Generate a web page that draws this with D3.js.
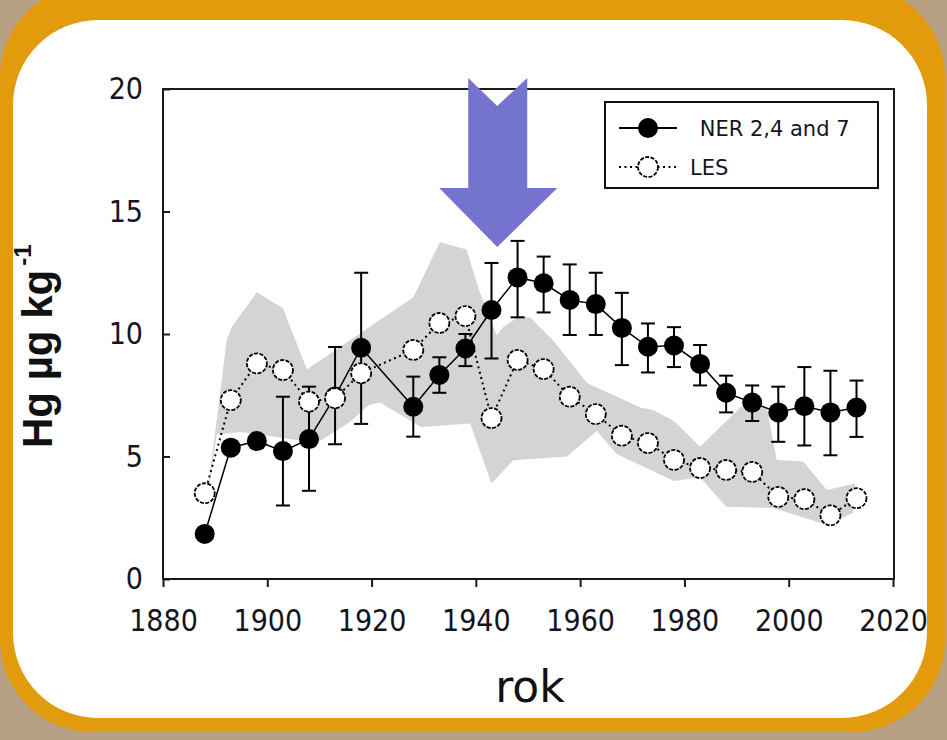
<!DOCTYPE html>
<html>
<head>
<meta charset="utf-8">
<script src="https://cdn.jsdelivr.net/npm/d3@7"></script>
<style>
  html, body { margin: 0; padding: 0; background: #b8a084; }
  svg { display: block; }
</style>
</head>
<body>
<svg id="chart" width="947" height="740"></svg>
<script>
// data
var years = [1888, 1893, 1898, 1903, 1908, 1913, 1918, 1928, 1933, 1938, 1943, 1948, 1953,
             1958, 1963, 1968, 1973, 1978, 1983, 1988, 1993, 1998, 2003, 2008, 2013];
var ner    = [1.84, 5.36, 5.63, 5.22, 5.71, 7.45, 9.44, 7.03, 8.33, 9.41, 10.98, 12.31, 12.07,
              11.39, 11.22, 10.25, 9.48, 9.53, 8.78, 7.6, 7.2, 6.8, 7.05, 6.8, 7.0];
var nerLow = [null, null, null, 3.0, 3.6, 5.5, 6.33, 5.81, 7.6, 8.69, 9.0, 10.68, 10.88,
              9.96, 9.96, 8.73, 8.43, 8.65, 7.9, 6.8, 6.45, 5.6, 5.45, 5.05, 5.8];
var nerHigh = [null, null, null, 7.44, 7.85, 9.47, 12.5, 8.26, 9.05, 10.0, 12.9, 13.8, 13.16,
               12.84, 12.5, 11.68, 10.43, 10.28, 9.55, 8.3, 7.9, 7.85, 8.65, 8.5, 8.1];
var les    = [3.5, 7.3, 8.8, 8.53, 7.24, 7.38, 8.4, 9.35, 10.45, 10.73, 6.57, 8.94, 8.57,
              7.44, 6.73, 5.85, 5.55, 4.86, 4.53, 4.45, 4.37, 3.35, 3.26, 2.6, 3.3];

// grey range band, upper and lower edges as [year, value]
var bandUpper = [[1888.6, 3.6], [1892.2, 9.75], [1893.2, 10.3], [1898, 11.7], [1903, 11.05],
                 [1907.6, 8.55], [1928, 11.5], [1933.1, 13.75], [1938.2, 13.45], [1940.6, 11.8],
                 [1944, 9.95], [1945.3, 10.3], [1948.5, 10.75], [1950.5, 10.65], [1954.8, 9.75],
                 [1961.3, 8.0], [1967, 7.45], [1971.5, 7.0], [1974, 6.9], [1978, 6.45],
                 [1983, 5.4], [1990.7, 7.0], [1993, 7.2], [1995.8, 7.0], [1997.7, 4.86],
                 [2002.8, 4.8], [2007.3, 3.63], [2012.7, 3.9]];
var bandLower = [[1888.6, 3.4], [1890.3, 5.9], [1895, 6.0], [1909.5, 5.55], [1915.8, 6.4],
                 [1919.5, 7.1], [1921.6, 7.2], [1929.5, 6.2], [1938.9, 6.35], [1943, 3.9],
                 [1947.2, 4.85], [1957.5, 5.0], [1963.2, 6.05], [1967, 5.1], [1978, 4.0],
                 [1983, 4.15], [1988, 2.95], [1997, 2.9], [2002.2, 2.55], [2007.3, 2.2],
                 [2012.4, 2.7]];

var xTicks = [1880, 1900, 1920, 1940, 1960, 1980, 2000, 2020];
var yTicks = [0, 5, 10, 15, 20];
var legendLabels = [" NER 2,4 and 7", "LES"];
var arrowAt = [1944.1, 13.55];   // tip of the blue arrow

var svg = d3.select("#chart");

// frame: orange rounded border on tan, white card
svg.append("rect")
    .attr("x", 0).attr("y", -15).attr("width", 945).attr("height", 747)
    .attr("rx", 92).attr("fill", "#e39b0e");
svg.append("rect")
    .attr("x", 13).attr("y", 20).attr("width", 914).attr("height", 698)
    .attr("rx", 85).attr("fill", "#ffffff");

var pLeft = 163, pRight = 893, pTop = 89, pBottom = 579;

var x = d3.scaleLinear().domain([1880, 2020]).range([pLeft, pRight]);
var y = d3.scaleLinear().domain([0, 20]).range([pBottom, pTop]);

var g = svg.append("g").attr("class", "main");

// band
var bandLine = d3.line()
    .x(function(d) { return x(d[0]); })
    .y(function(d) { return y(d[1]); });
g.append("path")
    .datum(bandUpper.concat(bandLower.slice().reverse()))
    .attr("fill", "#d4d4d4")
    .attr("d", function(d) { return bandLine(d) + "Z"; });

// axes
g.append("g")
    .attr("class", "axis axis--x")
    .attr("transform", "translate(0," + pBottom + ")")
    .call(d3.axisBottom(x).tickValues(xTicks).tickFormat(d3.format("d"))
        .tickSizeInner(8).tickSizeOuter(0).tickPadding(23));

g.append("g")
    .attr("class", "axis axis--y")
    .attr("transform", "translate(" + pLeft + ",0)")
    .call(d3.axisLeft(y).tickValues(yTicks)
        .tickSizeInner(-7).tickSizeOuter(0).tickPadding(20));

g.selectAll(".axis .domain").remove();
g.selectAll(".axis line").attr("stroke", "#1a1a1a").attr("stroke-width", 2);
g.selectAll(".axis text")
    .attr("fill", "#15151f")
    .style("font-family", "'DejaVu Sans Condensed', 'DejaVu Sans', sans-serif")
    .style("font-size", "30px");

g.append("rect")
    .attr("x", pLeft).attr("y", pTop)
    .attr("width", pRight - pLeft + 1).attr("height", pBottom - pTop)
    .attr("fill", "none").attr("stroke", "#1a1a1a").attr("stroke-width", 2);

// NER series
var rows = years.map(function(yr, i) {
  return { year: yr, ner: ner[i], lo: nerLow[i], hi: nerHigh[i], les: les[i] };
});
var withErr = rows.filter(function(d) { return d.lo != null; });

var errG = g.append("g").attr("stroke", "#000").attr("stroke-width", 2);
errG.selectAll(".bar").data(withErr).enter().append("line")
    .attr("x1", function(d) { return x(d.year); })
    .attr("x2", function(d) { return x(d.year); })
    .attr("y1", function(d) { return y(d.lo); })
    .attr("y2", function(d) { return y(d.hi); });
["lo", "hi"].forEach(function(k) {
  errG.selectAll(".cap" + k).data(withErr).enter().append("line")
      .attr("x1", function(d) { return x(d.year) - 7; })
      .attr("x2", function(d) { return x(d.year) + 7; })
      .attr("y1", function(d) { return y(d[k]); })
      .attr("y2", function(d) { return y(d[k]); });
});

g.append("path")
    .datum(rows)
    .attr("fill", "none").attr("stroke", "#000").attr("stroke-width", 1.5)
    .attr("d", d3.line().x(function(d) { return x(d.year); }).y(function(d) { return y(d.ner); }));

g.selectAll(".ner").data(rows).enter().append("circle")
    .attr("cx", function(d) { return x(d.year); })
    .attr("cy", function(d) { return y(d.ner); })
    .attr("r", 10).attr("fill", "#000");

// LES series
g.append("path")
    .datum(rows)
    .attr("fill", "none").attr("stroke", "#000").attr("stroke-width", 2)
    .attr("stroke-dasharray", "2,3.5")
    .attr("d", d3.line().x(function(d) { return x(d.year); }).y(function(d) { return y(d.les); }));

g.selectAll(".les").data(rows).enter().append("circle")
    .attr("cx", function(d) { return x(d.year); })
    .attr("cy", function(d) { return y(d.les); })
    .attr("r", 10).attr("fill", "#fff")
    .attr("stroke", "#000").attr("stroke-width", 1.8).attr("stroke-dasharray", "4,1.5");

// legend
var lg = svg.append("g").attr("transform", "translate(605,102)");
lg.append("rect").attr("width", 273).attr("height", 86)
    .attr("fill", "#fff").attr("stroke", "#111").attr("stroke-width", 2);
lg.append("line").attr("x1", 14).attr("x2", 72).attr("y1", 26).attr("y2", 26)
    .attr("stroke", "#000").attr("stroke-width", 1.8);
lg.append("circle").attr("cx", 43).attr("cy", 26).attr("r", 10).attr("fill", "#000");
lg.append("line").attr("x1", 14).attr("x2", 72).attr("y1", 65).attr("y2", 65)
    .attr("stroke", "#000").attr("stroke-width", 2).attr("stroke-dasharray", "2,3.5");
lg.append("circle").attr("cx", 43).attr("cy", 65).attr("r", 10).attr("fill", "#fff")
    .attr("stroke", "#000").attr("stroke-width", 1.8).attr("stroke-dasharray", "4,1.5");
lg.selectAll("text").data(legendLabels).enter().append("text")
    .attr("x", function(d, i) { return i === 0 ? 88 : 85; })
    .attr("y", function(d, i) { return i === 0 ? 34 : 73; })
    .attr("fill", "#15151f")
    .style("font-family", "'DejaVu Sans', sans-serif")
    .style("font-size", "21px")
    .style("white-space", "pre")
    .text(function(d) { return d; });

// axis titles
svg.append("text")
    .attr("x", (pLeft + pRight) / 2 + 2).attr("y", 702)
    .attr("text-anchor", "middle")
    .attr("fill", "#111")
    .style("font-family", "'DejaVu Sans', sans-serif")
    .style("font-size", "44px")
    .text("rok");

var yl = svg.append("text")
    .attr("transform", "translate(52,448) rotate(-90)")
    .attr("fill", "#111")
    .style("font-family", "'Liberation Sans', Arial, sans-serif")
    .style("font-weight", "bold")
    .style("font-size", "42px");
yl.append("tspan").text("Hg µg kg");
yl.append("tspan").attr("dy", -21).attr("dx", 4).style("font-size", "24px").text("-1");

// blue arrow pointing at the peak
var ax = x(arrowAt[0]), ay = y(arrowAt[1]);
var arrowPts = [[-29, -169], [0, -141], [30, -169], [30, -59], [60, -59], [0, 0],
                [-58, -59], [-29, -59]];
svg.append("polygon")
    .attr("points", arrowPts.map(function(p) { return (ax + p[0]) + "," + (ay + p[1]); }).join(" "))
    .attr("fill", "#7474cf");
</script>
</body>
</html>
